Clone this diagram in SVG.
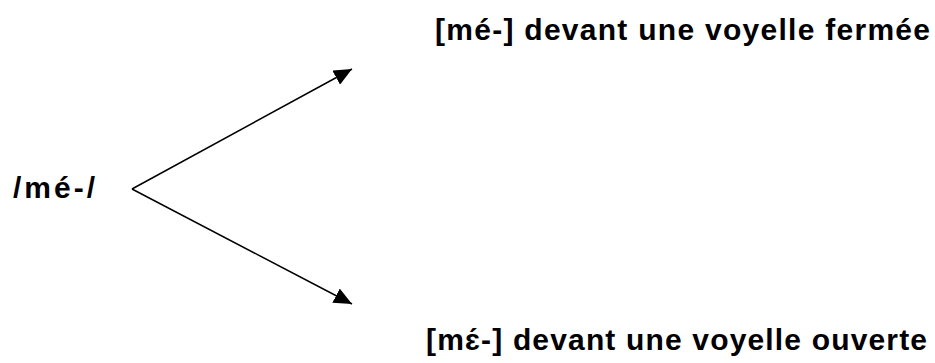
<svg xmlns="http://www.w3.org/2000/svg" width="935" height="363" viewBox="0 0 935 363">
<style>
.lbl{font-family:"Liberation Sans",Arial,sans-serif;font-weight:bold;font-size:30px;fill:#000}
.conn{stroke:#000;stroke-width:1.5;fill:none}
</style>
<defs>
<marker id="arr" markerUnits="userSpaceOnUse" markerWidth="18" markerHeight="16" refX="18" refY="8" orient="auto" viewBox="0 0 18 16">
<path d="M0,0 L18,8 L0,16 z" fill="#000"/>
</marker>
</defs>
<rect width="935" height="363" fill="#fff"/>
<g id="connectors">
<line class="conn" x1="132" y1="189" x2="352" y2="69" marker-end="url(#arr)"/>
<line class="conn" x1="132" y1="189" x2="352" y2="304" marker-end="url(#arr)"/>
</g>
<g id="source">
<text class="lbl" x="13" y="198" textLength="82" lengthAdjust="spacing">/mé-/</text>
</g>
<g id="closed">
<text class="lbl" x="435" y="40" textLength="495" lengthAdjust="spacing">[mé-] devant une voyelle fermée</text>
</g>
<g id="open">
<text class="lbl" x="426" y="350" textLength="501" lengthAdjust="spacing">[mɛ́-] devant une voyelle ouverte</text>
</g>
</svg>
